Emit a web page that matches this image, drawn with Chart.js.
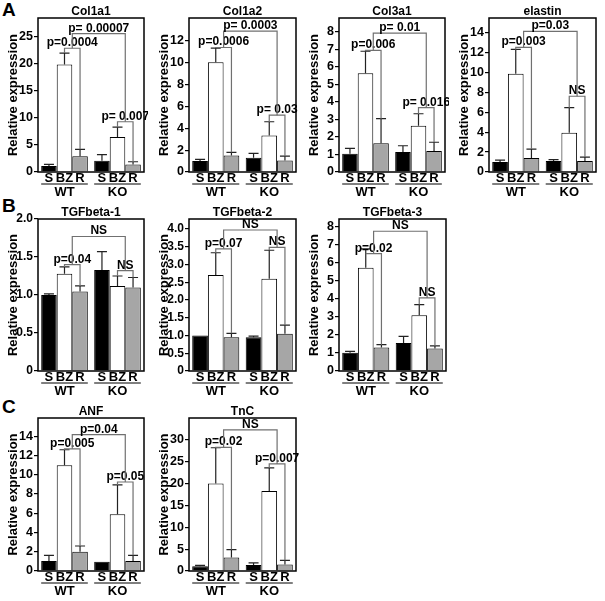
<!DOCTYPE html>
<html>
<head>
<meta charset="utf-8">
<script src="https://cdn.jsdelivr.net/npm/chart.js@4.4.1/dist/chart.umd.min.js"></script>
<style>
body { margin: 0; background: #fff; width: 605px; height: 601px; position: relative; overflow: hidden; font-family: "Liberation Sans", Arial, sans-serif; }
canvas { position: absolute; }
.letter { position: absolute; font-weight: bold; font-size: 19px; line-height: 19px; color: #000; }
</style>
</head>
<body>
<div class="letter" style="left:2px;top:0px">A</div>
<div class="letter" style="left:2px;top:196px">B</div>
<div class="letter" style="left:2px;top:397px">C</div>
<script>
const groups = ['WT', 'KO']
const conditions = ['S', 'BZ', 'R']
const barColors = ['#000000', '#ffffff', '#a6a6a6']

// values: WT S, BZ, R, then KO S, BZ, R ; err = upper error bar length
const col1a1Mean = [1.1, 19.9, 2.9, 2.1, 6.5, 1.4]
const col1a1Err = [0.3, 2.1, 1.3, 1.1, 1.8, 0.5]
const col1a1Brackets = [22.9, 9.3, 25.6]        // WT, KO, WT vs KO
const col1a1P = ['p=0.0004', 'p= 0.007', 'p= 0.00007']
const col1a1Ticks = [0, 5, 10, 15, 20, 25]

const col1a2Mean = [1.0, 10.05, 1.5, 1.3, 3.35, 1.05]
const col1a2Err = [0.15, 1.3, 0.3, 0.4, 1.25, 0.4]
const col1a2Brackets = [11.4, 5.2, 12.9]
const col1a2P = ['p=0.0006', 'p= 0.03', 'p= 0.0003']
const col1a2Ticks = [0, 2, 4, 6, 8, 10, 12]

const col3a1Mean = [1.05, 5.65, 1.65, 1.15, 2.65, 1.2]
const col3a1Err = [0.3, 1.25, 1.4, 0.35, 0.68, 0.5]
const col3a1Brackets = [6.95, 3.68, 7.94]
const col3a1P = ['p=0.006', 'p= 0.016', 'p= 0.01']
const col3a1Ticks = [0, 1, 2, 3, 4, 5, 6, 7, 8]

const elastinMean = [1.0, 9.85, 1.4, 1.1, 3.95, 1.1]
const elastinErr = [0.2, 2.45, 0.9, 0.15, 2.5, 0.4]
const elastinBrackets = [12.5, 7.6, 14.1]
const elastinP = ['p=0.003', 'NS', 'p=0.03']
const elastinTicks = [0, 2, 4, 6, 8, 10, 12, 14]

const tgfb1Mean = [1.0, 1.28, 1.045, 1.33, 1.12, 1.1]
const tgfb1Err = [0.015, 0.09, 0.075, 0.24, 0.13, 0.13]
const tgfb1Brackets = [1.40, 1.32, 1.77]
const tgfb1P = ['p=0.04', 'NS', 'NS']
const tgfb1Ticks = [0, 0.5, 1.0, 1.5, 2.0]

const tgfb2Mean = [1.0, 2.7, 0.95, 0.95, 2.6, 1.05]
const tgfb2Err = [0, 0.63, 0.11, 0.03, 0.8, 0.24]
const tgfb2Brackets = [3.44, 3.48, 3.97]
const tgfb2P = ['p=0.07', 'NS', 'NS']
const tgfb2Ticks = [0, 0.5, 1.0, 1.5, 2.0, 2.5, 3.0, 3.5, 4.0]

const tgfb3Mean = [1.02, 5.74, 1.3, 1.55, 3.09, 1.25]
const tgfb3Err = [0.07, 1.04, 0.16, 0.37, 0.6, 0.15]
const tgfb3Brackets = [6.52, 4.06, 7.76]
const tgfb3P = ['p=0.02', 'NS', 'NS']
const tgfb3Ticks = [0, 1, 2, 3, 4, 5, 6, 7, 8]

const anfMean = [1.05, 11.0, 2.0, 0.95, 5.9, 1.05]
const anfErr = [0.58, 1.6, 0.6, 0, 3.05, 0.58]
const anfBrackets = [12.7, 9.25, 14.17]
const anfP = ['p=0.005', 'p=0.05', 'p=0.04']
const anfTicks = [0, 2, 4, 6, 8, 10, 12, 14]

const tncMean = [1.07, 20.0, 3.1, 1.38, 18.3, 1.5]
const tncErr = [0.23, 8.2, 1.8, 0.46, 5.3, 0.95]
const tncBrackets = [28.3, 24.5, 32.3]
const tncP = ['p=0.02', 'p=0.007', 'NS']
const tncTicks = [0, 5, 10, 15, 20, 25, 30]

const font = '"Liberation Sans", Arial, sans-serif'

// box = plot area in page pixels [left, right, top, bottom]
const panels = [
    { name: 'Col1a1', mean: col1a1Mean, err: col1a1Err, br: col1a1Brackets, p: col1a1P, ticks: col1a1Ticks, max: 28.5, box: [38, 144, 18, 172] },
    { name: 'Col1a2', mean: col1a2Mean, err: col1a2Err, br: col1a2Brackets, p: col1a2P, ticks: col1a2Ticks, max: 14.1, box: [189, 296, 18, 172] },
    { name: 'Col3a1', mean: col3a1Mean, err: col3a1Err, br: col3a1Brackets, p: col3a1P, ticks: col3a1Ticks, max: 8.8, box: [339, 445, 18, 172] },
    { name: 'elastin', mean: elastinMean, err: elastinErr, br: elastinBrackets, p: elastinP, ticks: elastinTicks, max: 15.45, box: [489, 596, 18, 172] },
    { name: 'TGFbeta-1', mean: tgfb1Mean, err: tgfb1Err, br: tgfb1Brackets, p: tgfb1P, ticks: tgfb1Ticks, max: 2.0, box: [38, 144, 219, 371], dec: true },
    { name: 'TGFbeta-2', mean: tgfb2Mean, err: tgfb2Err, br: tgfb2Brackets, p: tgfb2P, ticks: tgfb2Ticks, max: 4.28, box: [189, 296, 219, 371], dec: true },
    { name: 'TGFbeta-3', mean: tgfb3Mean, err: tgfb3Err, br: tgfb3Brackets, p: tgfb3P, ticks: tgfb3Ticks, max: 8.44, box: [339, 446, 219, 371] },
    { name: 'ANF', mean: anfMean, err: anfErr, br: anfBrackets, p: anfP, ticks: anfTicks, max: 15.9, box: [38, 144, 418, 571] },
    { name: 'TnC', mean: tncMean, err: tncErr, br: tncBrackets, p: tncP, ticks: tncTicks, max: 35, box: [189, 296, 418, 571] },
]

function decorPlugin(p) {
    return {
        id: 'decor',
        afterDatasetsDraw(chart) {
            const ctx = chart.ctx
            const a = chart.chartArea
            const y = chart.scales.y
            const bar = (i, g) => chart.getDatasetMeta(i).data[g]
            const val = (i, g) => p.mean[g * 3 + i]
            const top = (i, g) => y.getPixelForValue(val(i, g) + p.err[g * 3 + i])
            ctx.save()

            // error bars (upper only)
            ctx.strokeStyle = '#222'
            ctx.lineWidth = 1.2
            for (let g = 0; g < 2; g++) {
                for (let i = 0; i < 3; i++) {
                    if (p.err[g * 3 + i] <= 0) continue
                    const b = bar(i, g)
                    const yb = y.getPixelForValue(val(i, g))
                    const yt = top(i, g)
                    ctx.beginPath()
                    ctx.moveTo(b.x, yb)
                    ctx.lineTo(b.x, yt)
                    ctx.moveTo(b.x - 5, yt)
                    ctx.lineTo(b.x + 5, yt)
                    ctx.stroke()
                }
            }

            // plot box
            ctx.strokeStyle = '#000'
            ctx.lineWidth = 1.5
            ctx.strokeRect(a.left, a.top, a.right - a.left, a.bottom - a.top)

            // brackets
            ctx.strokeStyle = '#707070'
            ctx.lineWidth = 1.2
            ctx.fillStyle = '#000'
            ctx.font = 'bold 12px ' + font
            ctx.textAlign = 'center'
            ctx.textBaseline = 'alphabetic'
            const mids = []
            const levels = []
            for (let g = 0; g < 2; g++) {
                const x1 = bar(1, g).x
                const x2 = bar(2, g).x
                const L = y.getPixelForValue(p.br[g])
                ctx.beginPath()
                ctx.moveTo(x1, Math.max(top(1, g), L))
                ctx.lineTo(x1, L)
                ctx.lineTo(x2, L)
                ctx.lineTo(x2, Math.max(top(2, g), L))
                ctx.stroke()
                ctx.fillText(p.p[g], (x1 + x2) / 2, L - 2)
                mids.push((x1 + x2) / 2)
                levels.push(L)
            }
            const T = y.getPixelForValue(p.br[2])
            ctx.beginPath()
            ctx.moveTo(mids[0], levels[0])
            ctx.lineTo(mids[0], T)
            ctx.lineTo(mids[1], T)
            ctx.lineTo(mids[1], levels[1])
            ctx.stroke()
            ctx.fillText(p.p[2], (mids[0] + mids[1]) / 2, T - 2)

            // gene title
            ctx.textBaseline = 'middle'
            ctx.fillText(p.name, (a.left + a.right) / 2, a.top - 6)

            // x labels, underline and genotype
            ctx.font = 'bold 13px ' + font
            ctx.strokeStyle = '#000'
            ctx.lineWidth = 1
            for (let g = 0; g < 2; g++) {
                for (let i = 0; i < 3; i++) {
                    ctx.fillText(conditions[i], bar(i, g).x, a.bottom + 6.5)
                }
                const l = bar(0, g).x - bar(0, g).width / 2
                const r = bar(2, g).x + bar(2, g).width / 2
                ctx.beginPath()
                ctx.moveTo(l, a.bottom + 12)
                ctx.lineTo(r, a.bottom + 12)
                ctx.stroke()
                ctx.fillText(groups[g], (l + r) / 2, a.bottom + 20)
            }

            // y title
            ctx.font = 'bold 13px ' + font
            ctx.translate(a.left - 25, (a.top + a.bottom) / 2)
            ctx.rotate(-Math.PI / 2)
            ctx.fillText('Relative expression', 0, 0)
            ctx.restore()
        }
    }
}

function makePanel(p) {
    const [l, r, t, b] = p.box
    const w = r - l + 42
    const h = b - t + 18 + 28
    const cv = document.createElement('canvas')
    cv.width = w
    cv.height = h
    cv.style.left = (l - 38) + 'px'
    cv.style.top = (t - 18) + 'px'
    cv.style.width = w + 'px'
    cv.style.height = h + 'px'
    document.body.appendChild(cv)

    new Chart(cv, {
        type: 'bar',
        data: {
            labels: groups,
            datasets: conditions.map((c, i) => ({
                label: c,
                data: [p.mean[i], p.mean[i + 3]],
                backgroundColor: barColors[i],
                borderColor: '#000',
                borderWidth: 1,
                categoryPercentage: 0.88,
                barPercentage: 1
            }))
        },
        options: {
            responsive: false,
            animation: false,
            devicePixelRatio: 1,
            layout: { padding: { top: 18, right: 4, bottom: 28, left: 0 } },
            plugins: { legend: { display: false }, tooltip: { enabled: false } },
            scales: {
                x: { display: false },
                y: {
                    min: 0,
                    max: p.max,
                    afterFit: s => { s.width = 38 },
                    afterBuildTicks: s => { s.ticks = p.ticks.map(v => ({ value: v })) },
                    border: { display: false },
                    grid: { drawOnChartArea: false, tickLength: 4, color: '#000', lineWidth: 1.2 },
                    ticks: {
                        color: '#000',
                        padding: 1,
                        font: { family: font, weight: 'bold', size: p.dec ? 12 : 12.5 },
                        callback: v => v === 0 ? '0' : (p.dec ? v.toFixed(1) : String(v))
                    }
                }
            }
        },
        plugins: [decorPlugin(p)]
    })
}

panels.forEach(makePanel)
</script>
</body>
</html>
